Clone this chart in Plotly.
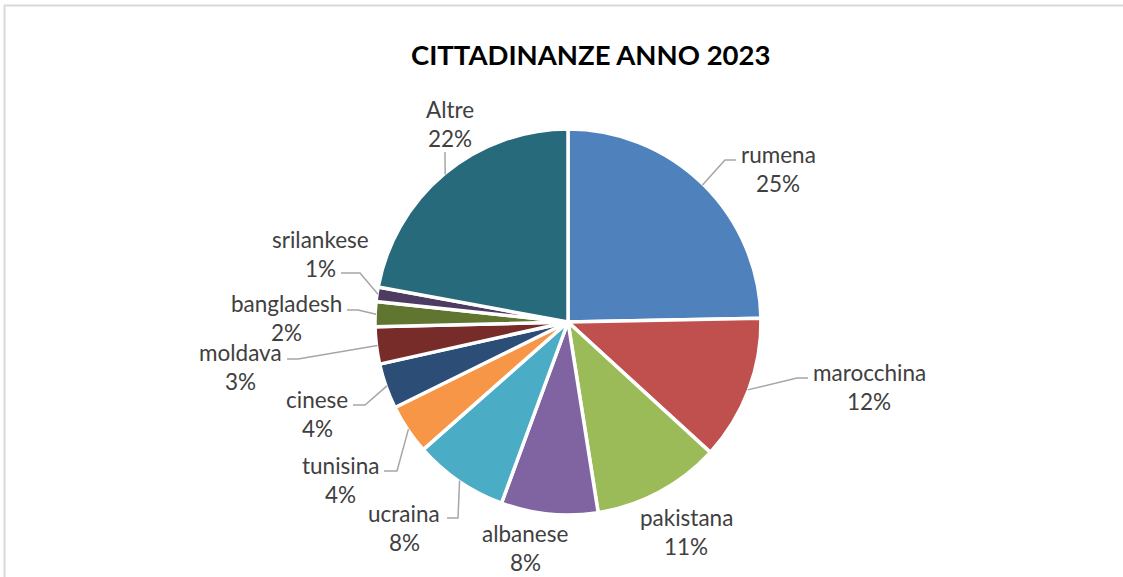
import math
import plotly.graph_objects as go

# Citizenship shares, 2023 (percent of total)
categories = ["rumena", "marocchina", "pakistana", "albanese", "ucraina",
              "tunisina", "cinese", "moldava", "bangladesh", "srilankese", "Altre"]
shares = [24.7, 12.1, 10.7, 8.1, 7.9, 4.2, 3.8, 3.1, 2.1, 1.2, 22.1]
colors = ["#4F81BD", "#C0504D", "#9BBB59", "#8064A2", "#4BACC6",
          "#F79646", "#2C4D75", "#772C2A", "#5F7530", "#4D3B62", "#276A7C"]
title_text = "CITTADINANZE ANNO 2023"

W, H = 1123, 577
CX, CY, R = 568, 322, 193          # pie centre and radius in pixels

# label block centre (x, y of first line) and optional leader path (elbow, end)
label_layout = {
    "rumena":     ((778, 154), [(725, 160), (736, 160)]),
    "marocchina": ((869, 372), [(797, 378), (808, 378)]),
    "pakistana":  ((686, 517), None),
    "albanese":   ((525, 533), None),
    "ucraina":    ((404, 513), [(458, 518), (447, 518)]),
    "tunisina":   ((340, 465), [(397, 471), (384, 471)]),
    "cinese":     ((317, 399), [(365, 405), (353, 405)]),
    "moldava":    ((240, 352), [(298, 359), (287, 359)]),
    "bangladesh": ((286, 303), [(358, 310), (347, 310)]),
    "srilankese": ((320, 239), [(360, 273), (341, 273)]),
    "Altre":      ((450, 109), [(445, 152)]),
}
LINE_GAP = 29
LABEL_FONT = dict(family="Lato, 'Open Sans', sans-serif", size=22.5, color="#404040")

total = sum(shares)

fig = go.Figure()
fig.add_trace(go.Pie(
    labels=categories,
    values=shares,
    sort=False,
    direction="clockwise",
    rotation=0,
    marker=dict(colors=colors, line=dict(color="white", width=3.5)),
    textinfo="none",
    hoverinfo="label+percent",
    showlegend=False,
    domain=dict(x=[(CX - R) / W, (CX + R) / W],
                y=[(H - CY - R) / H, (H - CY + R) / H]),
))

annotations = []
shapes = []
cum = 0.0
for name, val in zip(categories, shares):
    frac_mid = (cum + val / 2) / total
    cum += val
    ang = 2 * math.pi * frac_mid
    sx = CX + (R - 1) * math.sin(ang)
    sy = CY - (R - 1) * math.cos(ang)
    (lx, ly), path = label_layout[name]
    pct = f"{round(val / total * 100)}%"
    annotations.append(dict(x=lx, y=ly, xref="x", yref="y", text=name, showarrow=False,
                            font=LABEL_FONT, xanchor="center", yanchor="middle"))
    annotations.append(dict(x=lx, y=ly + LINE_GAP, xref="x", yref="y", text=pct, showarrow=False,
                            font=LABEL_FONT, xanchor="center", yanchor="middle"))
    if path:
        pts = [(sx, sy)] + path
        d = "M " + " L ".join(f"{px},{py}" for px, py in pts)
        shapes.append(dict(type="path", path=d, xref="x", yref="y",
                           line=dict(color="#A6A6A6", width=1.5), layer="above"))

annotations.append(dict(x=590, y=54, xref="x", yref="y", text=f"<b>{title_text}</b>",
                        showarrow=False, xanchor="center", yanchor="middle",
                        font=dict(family="Lato, 'Open Sans', sans-serif", size=27.5, color="#000000")))

# chart frame (top and left edges)
shapes.append(dict(type="line", x0=4, y0=5.5, x1=W, y1=5.5, xref="x", yref="y",
                   line=dict(color="#D9D9D9", width=2)))
shapes.append(dict(type="line", x0=4.5, y0=5, x1=4.5, y1=H, xref="x", yref="y",
                   line=dict(color="#D9D9D9", width=2)))

fig.update_layout(
    width=W, height=H,
    margin=dict(l=0, r=0, t=0, b=0),
    paper_bgcolor="white", plot_bgcolor="white",
    xaxis=dict(range=[0, W], visible=False, fixedrange=True, domain=[0, 1]),
    yaxis=dict(range=[H, 0], visible=False, fixedrange=True, domain=[0, 1]),
    annotations=annotations,
    shapes=shapes,
)

fig.write_html("out.html")
